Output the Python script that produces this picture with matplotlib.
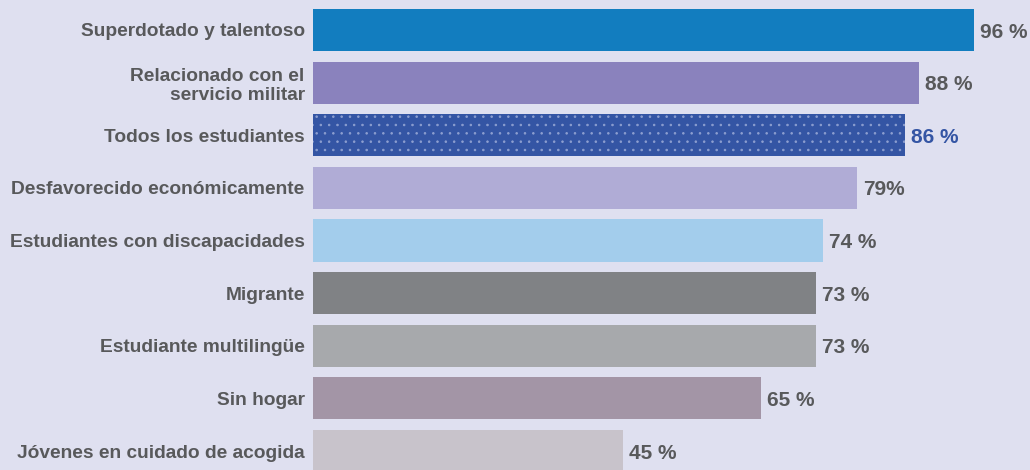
import matplotlib
matplotlib.use("Agg")
import matplotlib.pyplot as plt

# datos del gráfico
categories = [
    "Superdotado y talentoso",
    "Relacionado con el\nservicio militar",
    "Todos los estudiantes",
    "Desfavorecido económicamente",
    "Estudiantes con discapacidades",
    "Migrante",
    "Estudiante multilingüe",
    "Sin hogar",
    "Jóvenes en cuidado de acogida",
]
values = [96, 88, 86, 79, 74, 73, 73, 65, 45]
value_labels = ["96 %", "88 %", "86 %", "79%", "74 %", "73 %", "73 %", "65 %", "45 %"]
colors = ["#127dbf", "#8a82bd", "#3455a4", "#b0acd6", "#a3cdec",
          "#808285", "#a7a9ac", "#a395a6", "#c8c3cb"]

BG = "#dfe0f0"
TEXT = "#58595b"
HIGHLIGHT = 2  # "Todos los estudiantes"

plt.rcParams["font.family"] = ["Liberation Sans", "DejaVu Sans"]
plt.rcParams["hatch.linewidth"] = 0.6

fig = plt.figure(figsize=(10.3, 4.7), dpi=100, facecolor=BG)
ax = fig.add_axes([313 / 1030, 0, 1 - 313 / 1030, 1])
ax.set_facecolor(BG)

y = list(range(len(categories)))
bars = ax.barh(y, values, height=0.8, color=colors, linewidth=0)
bars[HIGHLIGHT].set_hatch("..")
bars[HIGHLIGHT].set_edgecolor("#8d9fd0")

for i, (v, lab) in enumerate(zip(values, value_labels)):
    c = "#3455a4" if i == HIGHLIGHT else TEXT
    ax.annotate(lab, (v, i), xytext=(4.3, -1.5), textcoords="offset points",
                va="center", ha="left", fontsize=15, fontweight="bold", color=c)

ax.set_xlim(0, 104.1)
ax.set_ylim(8.36, -0.57)
ax.set_yticks(y)
ax.set_yticklabels(categories, fontsize=13.8, fontweight="bold", color=TEXT,
                   ha="right", linespacing=1.2)
ax.tick_params(axis="y", length=0, pad=6)
ax.set_xticks([])
for s in ax.spines.values():
    s.set_visible(False)

fig.savefig("out.png", dpi=100, facecolor=BG)
